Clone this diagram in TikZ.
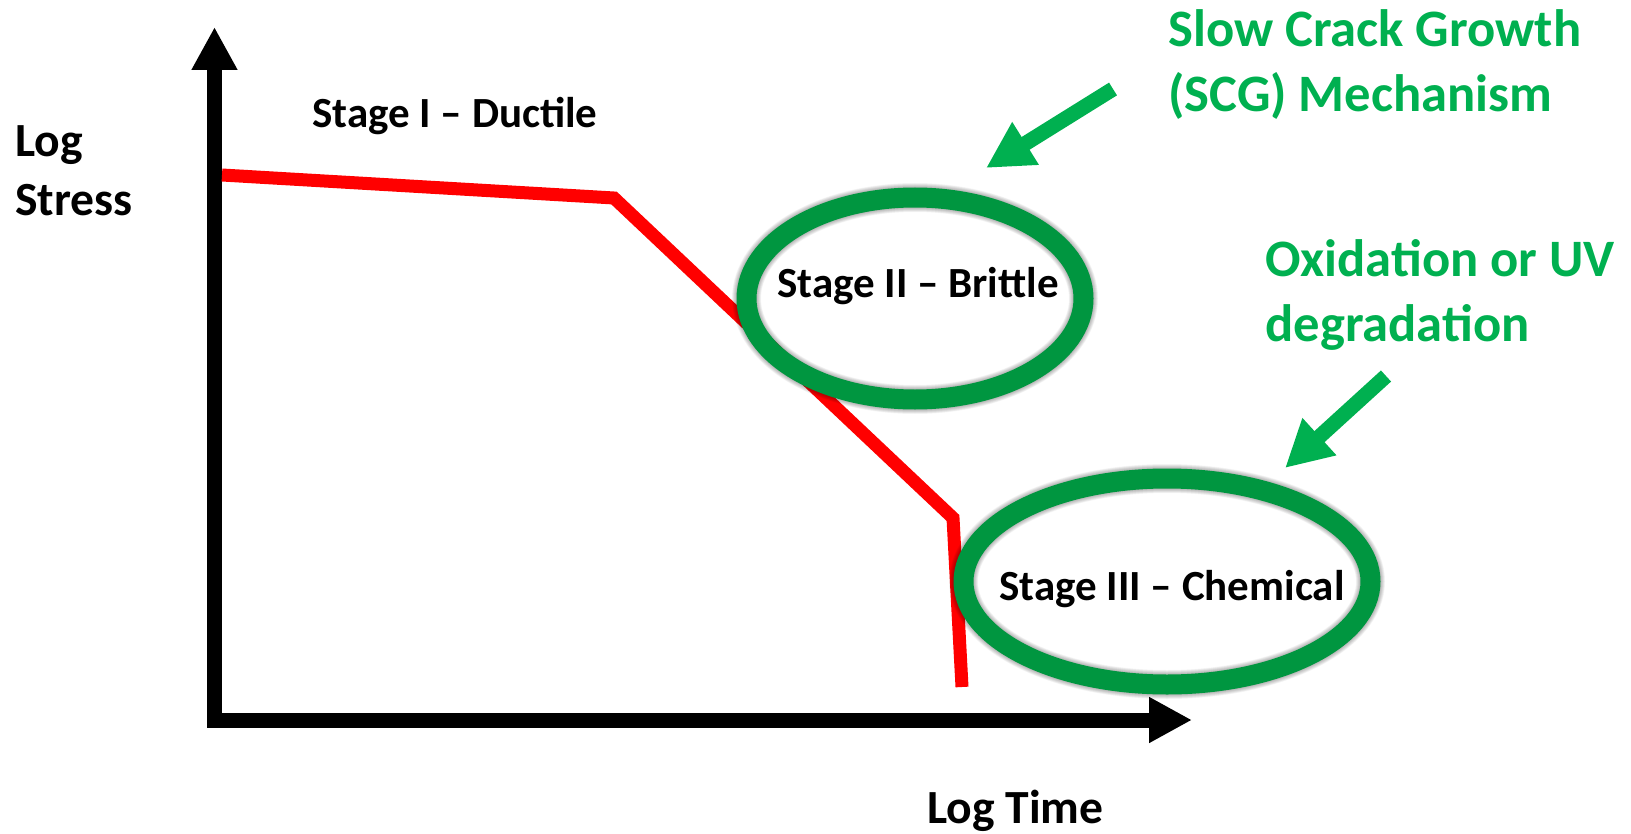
\documentclass[tikz,border=0pt]{standalone}
\usepackage{fontspec}
\setmainfont{Carlito}
\usetikzlibrary{arrows.meta,shapes.geometric}
\definecolor{txtgreen}{RGB}{0,176,80}
\definecolor{ringgreen}{RGB}{0,150,64}
\begin{document}
\begin{tikzpicture}[x=0.5pt,y=-0.5pt,
  axis/.style={line width=7.5pt, line join=miter, black,
    {Triangle[length=21.5pt,width=21.5pt]}-{Triangle[length=21.5pt,width=21.5pt]}},
  curve/.style={line width=6.5pt, red, line join=miter},
  ring/.style={ellipse, draw=ringgreen, line width=10pt, inner sep=0pt},
  glow/.style={black, opacity=0.035},
  pointer/.style={line width=7.5pt, txtgreen, -{Triangle[length=23.3pt,width=23.5pt]}},
  stagelabel/.style={font=\bfseries\fontsize{21.5}{26}\selectfont, anchor=base west, inner sep=0pt},
  axislabel/.style={font=\bfseries\fontsize{23.8}{29.5}\selectfont, inner sep=0pt, align=left, anchor=base west},
  notelabel/.style={font=\bfseries\fontsize{26.3}{32.5}\selectfont, text=txtgreen, align=left, inner sep=0pt, anchor=base west}
]
\useasboundingbox (0,0) rectangle (1631,834);

% axes
\coordinate (ytip) at (214.5,27);
\coordinate (origin) at (214.5,720);
\coordinate (xtip) at (1192,720);
\draw[axis] (ytip) -- (origin) -- (xtip);

% stress curve
\coordinate (p1) at (222,175);
\coordinate (p2) at (614,198);
\coordinate (p3) at (953,518);
\coordinate (p4) at (962,687);
\draw[curve] (p1) -- (p2) -- (p3) -- (p4);

% ring glows
\coordinate (c2) at (915,298.5);
\coordinate (c3) at (1167,581.5);
\foreach \w in {10.5,11,...,14.5}{
  \draw[glow, line width=\w pt] (c2) ellipse [x radius=168.5, y radius=101];
  \draw[glow, line width=\w pt] (c3) ellipse [x radius=203.5, y radius=103];
}

% rings
\node[ring, minimum width=168.5pt, minimum height=101pt] (ring2) at (c2) {};
\node[ring, minimum width=203.5pt, minimum height=103pt] (ring3) at (c3) {};

% labels (base anchor = baseline of last line)
\node[axislabel] (ylab) at (15,216) {Log\\Stress};
\node[axislabel] (xlab) at (927,823) {Log Time};
\node[stagelabel] (s1) at (312,128) {Stage I – Ductile};
\node[stagelabel] (s2) at (777,297) {Stage II – Brittle};
\node[stagelabel] (s3) at (999,600) {Stage III – Chemical};
\node[notelabel] (scg) at (1168,112) {Slow Crack Growth\\(SCG) Mechanism};
\node[notelabel] (oxi) at (1265,341) {Oxidation or UV\\degradation};

% green pointers
\coordinate (a1s) at (1113,89);
\coordinate (a1e) at (986,168);
\draw[pointer] (a1s) -- (a1e);
\coordinate (a2s) at (1386,376);
\coordinate (a2e) at (1285,468);
\draw[pointer] (a2s) -- (a2e);
\end{tikzpicture}
\end{document}
